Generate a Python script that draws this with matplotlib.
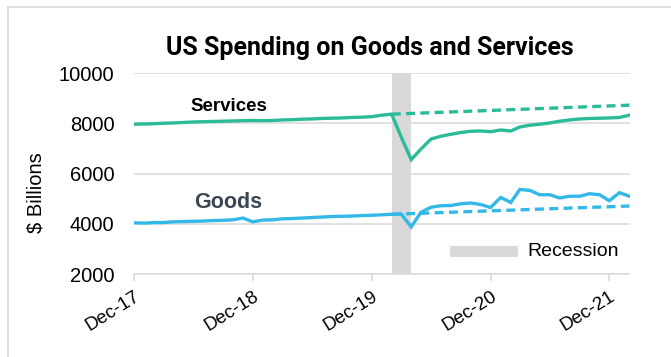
import matplotlib
matplotlib.use("Agg")
import matplotlib.pyplot as plt
from matplotlib.patches import Rectangle
from matplotlib.lines import Line2D
import pandas as pd

# ---------------- data ----------------
start_month = "2017-12-01"
services = [7970, 7980, 7990, 8010, 8020, 8040, 8060, 8070, 8080, 8090, 8100, 8110,
            8120, 8110, 8120, 8140, 8150, 8170, 8180, 8200, 8210, 8220, 8240, 8250,
            8270, 8330, 8370, 7470, 6560, 6980, 7380, 7490, 7570, 7640, 7690, 7700,
            7670, 7740, 7700, 7860, 7930, 7970, 8020, 8090, 8140, 8180, 8200, 8210,
            8220, 8240, 8330]
goods = [4040, 4030, 4050, 4050, 4080, 4090, 4100, 4110, 4130, 4140, 4160, 4230,
         4080, 4150, 4160, 4200, 4210, 4230, 4250, 4270, 4290, 4300, 4310, 4330,
         4340, 4360, 4380, 4390, 3880, 4460, 4660, 4720, 4730, 4800, 4830, 4770,
         4650, 5050, 4850, 5370, 5330, 5160, 5160, 5030, 5100, 5100, 5200, 5160,
         4920, 5240, 5100]
trend_dates = ["2020-02-01", "2022-02-01"]
services_trend = [8370, 8730]
goods_trend = [4380, 4710]
recession = ["2020-02-01", "2020-04-01"]
tick_dates = ["2017-12-01", "2018-12-01", "2019-12-01", "2020-12-01", "2021-12-01"]
tick_labels = ["Dec-17", "Dec-18", "Dec-19", "Dec-20", "Dec-21"]
yticks = [2000, 4000, 6000, 8000, 10000]

months = pd.date_range(start_month, periods=len(services), freq="MS")

# ---------------- style ----------------
W, H = 671, 357
C_SERV = "#2BBB99"
C_GOOD = "#33B9E8"
GRID = "#D9D9D9"
BASE_FONT = "Liberation Sans"

def fx(px):
    return px / W

def fy(py):
    return 1 - py / H

fig = plt.figure(figsize=(W / 100, H / 100), dpi=100)
ax = fig.add_axes([fx(134), fy(274), fx(629.5) - fx(134), fy(73.3) - fy(274)])

ax.axvspan(pd.Timestamp(recession[0]), pd.Timestamp(recession[1]),
           color=GRID, lw=0, zorder=1)

lw = 2.4
ax.plot(months, services, color=C_SERV, lw=lw, solid_joinstyle="miter", zorder=4)
ax.plot(months, goods, color=C_GOOD, lw=lw, solid_joinstyle="miter", zorder=4)
td = pd.to_datetime(trend_dates)
ax.plot(td, services_trend, color=C_SERV, lw=lw, dashes=(2.7, 1.6),
        dash_capstyle="butt", zorder=3)
ax.plot(td, goods_trend, color=C_GOOD, lw=lw, dashes=(2.7, 1.6),
        dash_capstyle="butt", zorder=3)

ax.set_xlim(months[0], months[-1])
ax.set_ylim(2000, 10000)
ax.set_yticks(yticks)
ax.set_yticklabels([str(v) for v in yticks], fontfamily=BASE_FONT, fontsize=14.5)
ax.set_xticks(pd.to_datetime(tick_dates))
ax.set_xticklabels(tick_labels, rotation=32, ha="right", va="top",
                   rotation_mode="anchor", fontfamily=BASE_FONT, fontsize=13.5)
ax.tick_params(axis="y", length=0, pad=14)
ax.tick_params(axis="x", length=5, width=1.1, color=GRID, pad=5)

ax.grid(axis="y", color=GRID, lw=1.1, zorder=0)
ax.set_axisbelow(True)
for s in ["top", "right", "left"]:
    ax.spines[s].set_visible(False)
ax.spines["bottom"].set_color(GRID)
ax.spines["bottom"].set_linewidth(1.1)

# y label
fig.text(fx(36), fy(193), "$ Billions", rotation=90, ha="center", va="center",
         fontfamily=BASE_FONT, fontsize=14.5)

# title
fig.text(fx(369.5), fy(55), "US Spending on Goods and Services", ha="center",
         va="baseline", fontfamily="Roboto", fontweight="bold", fontsize=18)

# series labels
fig.text(fx(229), fy(111), "Services", ha="center", va="baseline",
         fontfamily=BASE_FONT, fontweight="bold", fontsize=13.5, color="black")
fig.text(fx(227.7), fy(207.7), "Goods", ha="center", va="baseline",
         fontfamily=BASE_FONT, fontweight="bold", fontsize=15.5, color="#3A4652")

# legend
fig.add_artist(Rectangle((fx(450), fy(257)), fx(518) - fx(450), fy(246) - fy(257),
                         transform=fig.transFigure, color=GRID, lw=0))
fig.text(fx(527), fy(251.7), "Recession", ha="left", va="center",
         fontfamily=BASE_FONT, fontsize=14)

# chart frame (top and left)
fig.add_artist(Line2D([fx(8), 1], [fy(7), fy(7)], transform=fig.transFigure,
                      color=GRID, lw=1.2))
fig.add_artist(Line2D([fx(8), fx(8)], [fy(7), 0], transform=fig.transFigure,
                      color=GRID, lw=1.2))

fig.savefig("out.png", dpi=100)
